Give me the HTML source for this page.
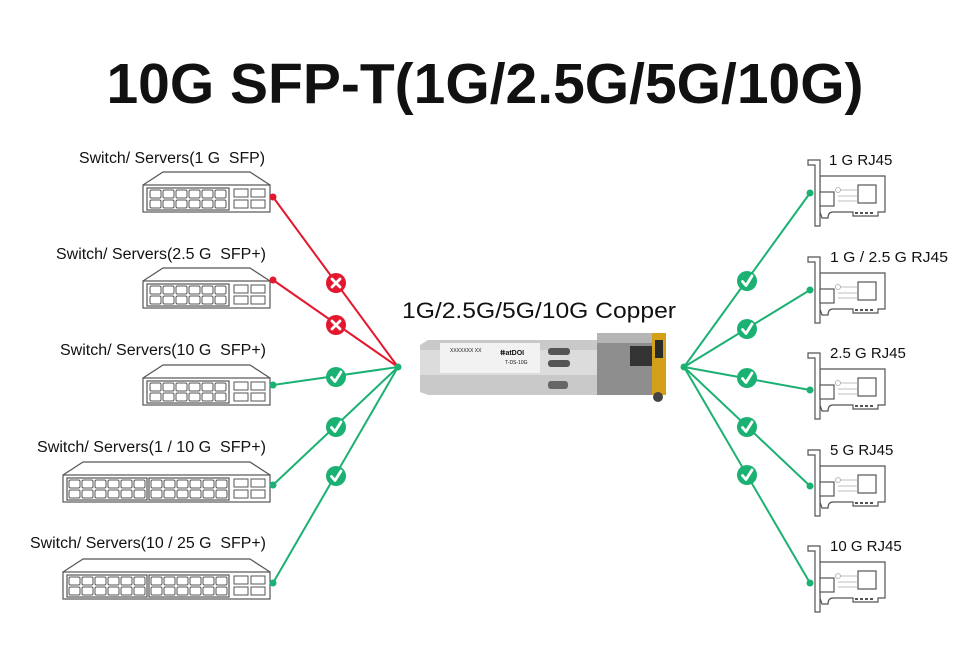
<!DOCTYPE html>
<html><head><meta charset="utf-8"><style>
html,body{margin:0;padding:0;background:#fff;}
svg{display:block;}
text{font-family:"Liberation Sans",Arial,sans-serif;fill:#111;}
</style></head><body>
<svg width="970" height="647" viewBox="0 0 970 647" xmlns="http://www.w3.org/2000/svg">
<defs>
  <g id="p6" fill="none" stroke="#555" stroke-width="1">
    <rect x="0" y="0" width="11" height="8" rx="1.5"/><rect x="13" y="0" width="11" height="8" rx="1.5"/><rect x="26" y="0" width="11" height="8" rx="1.5"/><rect x="39" y="0" width="11" height="8" rx="1.5"/><rect x="52" y="0" width="11" height="8" rx="1.5"/><rect x="65" y="0" width="11" height="8" rx="1.5"/>
    <rect x="0" y="10" width="11" height="8" rx="1.5"/><rect x="13" y="10" width="11" height="8" rx="1.5"/><rect x="26" y="10" width="11" height="8" rx="1.5"/><rect x="39" y="10" width="11" height="8" rx="1.5"/><rect x="52" y="10" width="11" height="8" rx="1.5"/><rect x="65" y="10" width="11" height="8" rx="1.5"/>
  </g>
  <g id="cage" fill="none" stroke="#555" stroke-width="1">
    <rect x="0" y="0" width="14" height="8"/><rect x="17" y="0" width="14" height="8"/>
    <rect x="0" y="11" width="14" height="8"/><rect x="17" y="11" width="14" height="8"/>
  </g>
  <g id="sw12" fill="none" stroke="#555" stroke-width="1.2">
    <path d="M0,13 L20,0 L107,0 L127,13"/>
    <rect x="0" y="13" width="127" height="27"/>
    <rect x="4" y="16" width="82" height="22"/>
    <use href="#p6" x="7" y="18"/>
    <use href="#cage" x="91" y="17"/>
  </g>
  <g id="sw24" fill="none" stroke="#555" stroke-width="1.2">
    <path d="M0,13 L20,0 L187,0 L207,13"/>
    <rect x="0" y="13" width="207" height="27"/>
    <rect x="4" y="16" width="80" height="22"/>
    <rect x="86" y="16" width="80" height="22"/>
    <use href="#p6" x="6" y="18"/>
    <use href="#p6" x="88" y="18"/>
    <use href="#cage" x="171" y="17"/>
  </g>
  <g id="nic" fill="#fff" stroke="#555" stroke-width="1.2">
    <path d="M12,16 L77,16 L77,52 L70,52 L70,56 L45,56 L45,52 L25,52 Q20,52 20,58 L14,58 L12,52 Z"/>
    <polygon points="0,0 12,0 12,66 7,66 7,5 0,5" fill="#fff"/>
    <rect x="12" y="32" width="14" height="14"/>
    <rect x="50" y="25" width="18" height="18"/>
    <path d="M30,30 L50,30 M30,36 L50,36 M30,41 L50,41" stroke="#aaa" stroke-width="0.8"/>
    <circle cx="30" cy="30" r="2.5" stroke="#aaa" stroke-width="0.8"/>
    <path d="M47,53 h3 M52,53 h3 M57,53 h3 M62,53 h3" stroke-width="2"/>
  </g>
  <g id="ok"><circle r="10" fill="#1bb173"/><path d="M-4.5,0.5 L-1,4.5 L5,-5" stroke="#fff" stroke-width="2.8" fill="none" stroke-linecap="round" stroke-linejoin="round"/></g>
  <g id="no"><circle r="10" fill="#e3172d"/><path d="M-4,-4 L4,4 M4,-4 L-4,4" stroke="#fff" stroke-width="2.8" stroke-linecap="round"/></g>
</defs>

<text x="485" y="103" text-anchor="middle" font-size="57" font-weight="bold">10G SFP-T(1G/2.5G/5G/10G)</text>

<g font-size="15.5">
<text x="79" y="163" textLength="186" lengthAdjust="spacingAndGlyphs">Switch/ Servers(1 G&#160; SFP)</text>
<text x="56" y="259" textLength="210" lengthAdjust="spacingAndGlyphs">Switch/ Servers(2.5 G&#160; SFP+)</text>
<text x="60" y="355" textLength="206" lengthAdjust="spacingAndGlyphs">Switch/ Servers(10 G&#160; SFP+)</text>
<text x="37" y="452" textLength="229" lengthAdjust="spacingAndGlyphs">Switch/ Servers(1 / 10 G&#160; SFP+)</text>
<text x="30" y="548" textLength="236" lengthAdjust="spacingAndGlyphs">Switch/ Servers(10 / 25 G&#160; SFP+)</text>
</g>
<use href="#sw12" x="143" y="172"/>
<use href="#sw12" x="143" y="268"/>
<use href="#sw12" x="143" y="365"/>
<use href="#sw24" x="63" y="462"/>
<use href="#sw24" x="63" y="559"/>

<g stroke-width="2">
<line x1="273" y1="197" x2="398" y2="367" stroke="#e3172d"/>
<line x1="273" y1="280" x2="398" y2="367" stroke="#e3172d"/>
<line x1="273" y1="385" x2="398" y2="367" stroke="#1bb173"/>
<line x1="273" y1="485" x2="398" y2="367" stroke="#1bb173"/>
<line x1="273" y1="583" x2="398" y2="367" stroke="#1bb173"/>
</g>
<circle cx="273" cy="197" r="3.5" fill="#e3172d"/>
<circle cx="273" cy="280" r="3.5" fill="#e3172d"/>
<circle cx="273" cy="385" r="3.5" fill="#1bb173"/>
<circle cx="273" cy="485" r="3.5" fill="#1bb173"/>
<circle cx="273" cy="583" r="3.5" fill="#1bb173"/>
<circle cx="398" cy="367" r="3.5" fill="#1bb173"/>
<use href="#no" x="336" y="283"/>
<use href="#no" x="336" y="325"/>
<use href="#ok" x="336" y="377"/>
<use href="#ok" x="336" y="427"/>
<use href="#ok" x="336" y="476"/>

<text x="539" y="318" text-anchor="middle" font-size="22" textLength="274" lengthAdjust="spacingAndGlyphs">1G/2.5G/5G/10G Copper</text>
<path d="M420,345 L428,340 L597,340 L597,395 L428,395 L420,392 Z" fill="#c9c9c9"/>
<rect x="420" y="350" width="177" height="25" fill="#dcdcdc"/>
<rect x="440" y="343" width="100" height="30" fill="#f2f2f2"/>
<text x="450" y="352" font-size="5" fill="#555">XXXXXXX XX</text>
<text x="500" y="355" font-size="7" font-weight="bold" fill="#444">ⵌatDOI</text>
<text x="505" y="364" font-size="5" fill="#555">T-DS-10G</text>
<rect x="548" y="348" width="22" height="7" rx="3" fill="#555"/>
<rect x="548" y="360" width="22" height="7" rx="3" fill="#555"/>
<rect x="548" y="381" width="20" height="8" rx="3" fill="#666"/>
<rect x="597" y="333" width="55" height="62" fill="#8e8e8e"/>
<rect x="597" y="333" width="55" height="10" fill="#b5b5b5"/>
<rect x="630" y="346" width="22" height="20" fill="#333"/>
<rect x="652" y="333" width="14" height="62" fill="#d4a019"/>
<rect x="655" y="340" width="8" height="18" fill="#2a2a2a"/>
<circle cx="658" cy="397" r="5" fill="#444"/>

<g stroke="#1bb173" stroke-width="2">
<line x1="684" y1="367" x2="810" y2="193"/>
<line x1="684" y1="367" x2="810" y2="290"/>
<line x1="684" y1="367" x2="810" y2="390"/>
<line x1="684" y1="367" x2="810" y2="486"/>
<line x1="684" y1="367" x2="810" y2="583"/>
</g>
<circle cx="684" cy="367" r="3.5" fill="#1bb173"/>
<g fill="#1bb173">
<circle cx="810" cy="193" r="3.5"/><circle cx="810" cy="290" r="3.5"/><circle cx="810" cy="390" r="3.5"/><circle cx="810" cy="486" r="3.5"/><circle cx="810" cy="583" r="3.5"/>
</g>
<use href="#ok" x="747" y="281"/>
<use href="#ok" x="747" y="329"/>
<use href="#ok" x="747" y="378"/>
<use href="#ok" x="747" y="427"/>
<use href="#ok" x="747" y="475"/>

<use href="#nic" x="808" y="160"/>
<use href="#nic" x="808" y="257"/>
<use href="#nic" x="808" y="353"/>
<use href="#nic" x="808" y="450"/>
<use href="#nic" x="808" y="546"/>
<g font-size="15">
<text x="829" y="165">1 G RJ45</text>
<text x="830" y="262" textLength="118" lengthAdjust="spacingAndGlyphs">1 G / 2.5 G RJ45</text>
<text x="830" y="358">2.5 G RJ45</text>
<text x="830" y="455">5 G RJ45</text>
<text x="830" y="551">10 G RJ45</text>
</g>
</svg>
</body></html>
